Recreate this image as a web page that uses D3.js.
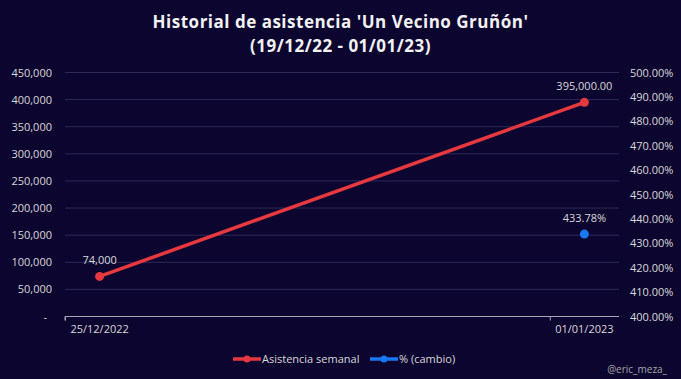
<!DOCTYPE html>
<html>
<head>
<meta charset="utf-8">
<script src="https://cdn.jsdelivr.net/npm/d3@7"></script>
<style>
  body { margin: 0; background: #0c0530; }
  text { font-family: 'Open Sans', sans-serif; }
</style>
</head>
<body>
<div id="canvas"></div>
<script>
// data
var dates = ['2022-12-25', '2023-01-01'];
var dateLabels = ['25/12/2022', '01/01/2023'];
var asistencia = [74000, 395000];
var cambio = [null, 433.78];
var asistLabels = ['74,000', '395,000.00'];
var cambioLabels = [null, '433.78%'];
var leftTicks = [0, 50000, 100000, 150000, 200000, 250000, 300000, 350000, 400000, 450000];
var rightTicks = [400, 410, 420, 430, 440, 450, 460, 470, 480, 490, 500];
var seriesNames = ['Asistencia semanal', '% (cambio)'];

var W = 681, H = 379;
var red = '#e5393f', blue = '#1877f2', txt = '#d9d9d9';

svg = d3.select('#canvas').append('svg')
  .attr('width', W)
  .attr('height', H);

svg.append('rect')
  .attr('width', W).attr('height', H)
  .attr('fill', '#0c0530');

var parse = d3.timeParse('%Y-%m-%d');
var dayMs = 864e5;
var d0 = parse(dates[0]), d1 = parse(dates[1]);

// date axis, half a day padding at each side
var x = d3.scaleTime()
  .domain([new Date(+d0 - dayMs / 2), new Date(+d1 + dayMs / 2)])
  .range([65, 619]);

var yL = d3.scaleLinear().domain([0, 450000]).range([316.5, 72.5]);
var yR = d3.scaleLinear().domain([400, 500]).range([316.5, 72.5]);

// title
var title = svg.append('text')
  .attr('x', W / 2).attr('y', 28)
  .attr('text-anchor', 'middle')
  .attr('fill', '#f2f2f2')
  .style('font-size', '17px')
  .style('font-weight', 'bold')
  .style('letter-spacing', '0.5px');
title.append('tspan').attr('x', W / 2).attr('dy', 0).text("Historial de asistencia 'Un Vecino Gruñón'");
title.append('tspan').attr('x', W / 2).attr('dy', 24).text('(19/12/22 - 01/01/23)');

// gridlines
svg.append('g').selectAll('line')
  .data(leftTicks.slice(1))
  .join('line')
  .attr('x1', 65).attr('x2', 619)
  .attr('y1', d => yL(d)).attr('y2', d => yL(d))
  .attr('stroke', '#2e2a58')
  .attr('stroke-width', 1);

// left axis
var fmtL = d => d === 0 ? '-' : d3.format(',')(d);
svg.append('g')
  .selectAll('text')
  .data(leftTicks)
  .join('text')
  .attr('x', d => d === 0 ? 47 : 52)
  .attr('y', d => yL(d) + 4)
  .attr('text-anchor', 'end')
  .attr('fill', txt)
  .style('font-size', '11px')
  .text(fmtL);

// right axis
svg.append('g')
  .selectAll('text')
  .data(rightTicks)
  .join('text')
  .attr('x', 630)
  .attr('y', d => yR(d) + 4)
  .attr('fill', txt)
  .style('font-size', '11px')
  .text(d => d3.format('.2f')(d) + '%');

// bottom axis
var xAxis = d3.axisBottom(x)
  .tickValues([x.domain()[0], new Date(+d1 - dayMs / 2)])
  .tickSize(4)
  .tickFormat('');
var gx = svg.append('g')
  .attr('transform', 'translate(0,' + 316.5 + ')')
  .call(xAxis);
gx.select('.domain').attr('stroke', '#a6a6b8').attr('d', 'M65,4V0H619');
gx.selectAll('.tick line').attr('stroke', '#a6a6b8');

svg.append('g')
  .selectAll('text')
  .data(dates)
  .join('text')
  .attr('x', d => x(parse(d)))
  .attr('y', 333)
  .attr('text-anchor', 'middle')
  .attr('fill', txt)
  .style('font-size', '11px')
  .text((d, i) => dateLabels[i]);

// red line
var pts = dates.map((d, i) => [x(parse(d)), yL(asistencia[i])]);
svg.append('path')
  .attr('d', d3.line()(pts))
  .attr('fill', 'none')
  .attr('stroke', red)
  .attr('stroke-width', 3.5)
  .attr('stroke-linecap', 'round');

svg.append('g').selectAll('circle')
  .data(pts)
  .join('circle')
  .attr('cx', d => d[0]).attr('cy', d => d[1])
  .attr('r', 4.5)
  .attr('fill', red);

svg.append('g').selectAll('text')
  .data(pts)
  .join('text')
  .attr('x', d => d[0])
  .attr('y', d => d[1] - 12)
  .attr('text-anchor', 'middle')
  .attr('fill', txt)
  .style('font-size', '11px')
  .text((d, i) => asistLabels[i]);

// blue point
dates.forEach(function(d, i) {
  if (cambio[i] == null) return;
  var cx = x(parse(d)), cy = yR(cambio[i]);
  svg.append('circle')
    .attr('cx', cx).attr('cy', cy)
    .attr('r', 4.5)
    .attr('fill', blue);
  svg.append('text')
    .attr('x', cx).attr('y', cy - 12)
    .attr('text-anchor', 'middle')
    .attr('fill', txt)
    .style('font-size', '11px')
    .text(cambioLabels[i]);
});

// legend
var legend = svg.append('g');
var legX = [233, 370];
seriesNames.forEach(function(name, i) {
  var c = i === 0 ? red : blue;
  var lx = legX[i], ly = 359;
  legend.append('line')
    .attr('x1', lx).attr('x2', lx + 28)
    .attr('y1', ly).attr('y2', ly)
    .attr('stroke', c).attr('stroke-width', 3.5);
  legend.append('circle')
    .attr('cx', lx + 14).attr('cy', ly).attr('r', 3.5)
    .attr('fill', c);
  legend.append('text')
    .attr('x', lx + 29).attr('y', ly + 4)
    .attr('fill', txt)
    .style('font-size', '11px')
    .text(name);
});

// watermark
svg.append('text')
  .attr('x', 667).attr('y', 373)
  .attr('text-anchor', 'end')
  .attr('fill', '#a6a6a6')
  .style('font-size', '10px')
  .text('@eric_meza_');
</script>
</body>
</html>
